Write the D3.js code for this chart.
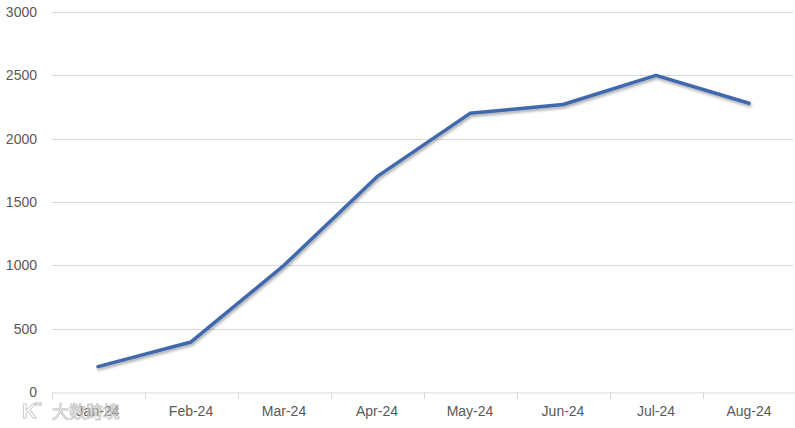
<!DOCTYPE html>
<html><head><meta charset="utf-8">
<script src="https://cdn.jsdelivr.net/npm/d3@7"></script>
<style>body{margin:0;background:#fff}svg{display:block}</style>
</head><body>
<svg id="c" width="795" height="428"></svg>
<script>
const categories = ["Jan-24","Feb-24","Mar-24","Apr-24","May-24","Jun-24","Jul-24","Aug-24"];
const values = [200, 395, 1000, 1700, 2200, 2270, 2500, 2280];
const yTicks = [0, 500, 1000, 1500, 2000, 2500, 3000];

(function(){
const svg = d3.select("#c");
const mLeft = 51.5, mRight = 795.5, mTop = 12, mBottom = 392;
const x = d3.scaleBand().domain(categories).range([mLeft, mRight]);
const y = d3.scaleLinear().domain([0, 3000]).range([mBottom, mTop]);
const font = "'Liberation Sans', Arial, sans-serif";

const defs = svg.append("defs");
const f = defs.append("filter").attr("id","sh").attr("x","-10%").attr("y","-10%").attr("width","120%").attr("height","130%");
f.append("feDropShadow").attr("dx",1).attr("dy",2).attr("stdDeviation",1.8).attr("flood-color","#000").attr("flood-opacity",0.35);

svg.append("g").selectAll("line").data(yTicks.filter(d=>d>0)).join("line")
  .attr("x1", mLeft).attr("x2", mRight - 2)
  .attr("y1", d=>Math.round(y(d))+0.5).attr("y2", d=>Math.round(y(d))+0.5)
  .attr("stroke","#d9d9d9").attr("stroke-width",1);

svg.append("g").selectAll("text").data(yTicks).join("text")
  .attr("x", 37).attr("y", d=>y(d)).attr("dy","0.35em")
  .attr("text-anchor","end").attr("font-family",font).attr("font-size",14).attr("fill","#595959")
  .text(d=>d);

const xa = svg.append("g").attr("transform",`translate(0,${mBottom+0.5})`)
  .call(d3.axisBottom(x).tickSize(0).tickPadding(14));
xa.select(".domain").attr("stroke","#d9d9d9");
xa.selectAll("text").attr("font-family",font).attr("font-size",14).attr("fill","#595959");
const bounds = categories.map(c=>x(c)).concat([x(categories[categories.length-1])+x.bandwidth()]);
svg.append("g").selectAll("line").data(bounds).join("line")
  .attr("x1",d=>Math.round(d)+0.5).attr("x2",d=>Math.round(d)+0.5)
  .attr("y1",mBottom).attr("y2",mBottom+7).attr("stroke","#d9d9d9");

const line = d3.line().x((d,i)=>x(categories[i])+x.bandwidth()/2).y(d=>y(d));
svg.append("path").datum(values).attr("d",line)
  .attr("fill","none").attr("stroke","#4169ad").attr("stroke-width",3.5)
  .attr("stroke-linejoin","round").attr("stroke-linecap","round")
  .attr("filter","url(#sh)");

const wm = svg.append("g").attr("opacity",0.75);
wm.append("text").attr("x",22).attr("y",418).attr("font-family",font).attr("font-size",20).attr("font-weight","bold")
  .attr("fill","#fff").attr("stroke","#bbb").attr("stroke-width",1).text("K");
wm.append("text").attr("x",34).attr("y",410).attr("font-family",font).attr("font-size",10)
  .attr("fill","#fff").attr("stroke","#bbb").attr("stroke-width",0.8).text("°°");
wm.append("text").attr("x",52).attr("y",418).attr("font-family","'Noto Sans CJK SC', sans-serif").attr("font-size",17)
  .attr("fill","#fff").attr("stroke","#bbb").attr("stroke-width",1).text("大数跨境");
})();
</script>
</body></html>
